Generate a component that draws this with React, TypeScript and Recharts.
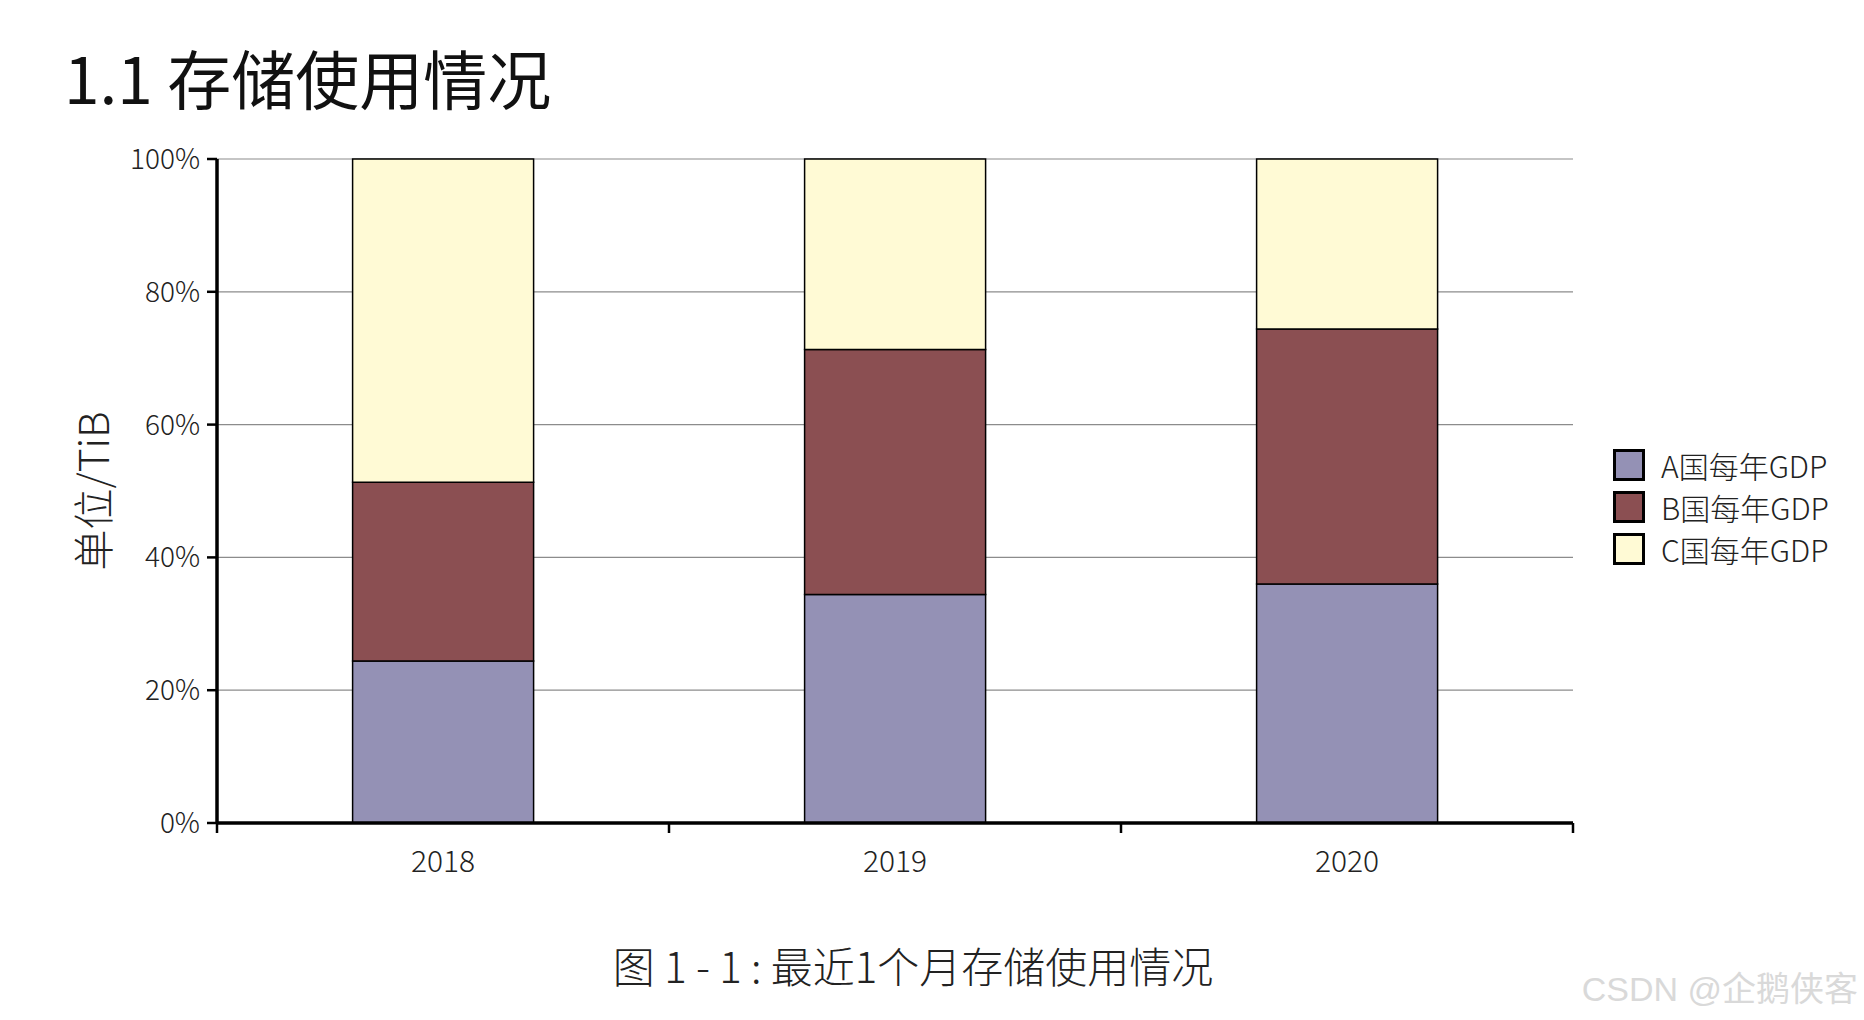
import { BarChart, Bar, XAxis, YAxis, CartesianGrid, Legend } from "recharts";

const years = ["2018", "2019", "2020"];
const seriesA = [24.4, 34.4, 36.0];
const seriesB = [26.9, 36.9, 38.4];
const seriesC = [48.7, 28.7, 25.6];
const yTicks = [0, 20, 40, 60, 80, 100];

const series = [
  { key: "a", name: "A国每年GDP", color: "#9491b5" },
  { key: "b", name: "B国每年GDP", color: "#8b4f52" },
  { key: "c", name: "C国每年GDP", color: "#fffad5" },
];

const data = years.map((year, i) => ({
  year,
  a: seriesA[i],
  b: seriesB[i],
  c: seriesC[i],
}));

const cjk = '"Noto Sans CJK SC", "Noto Sans", sans-serif';

// year label plus tick marks on the category boundaries
const YearTick = (props: any) => {
  const { x, y, payload, index, visibleTicksCount } = props;
  const half = payload.offset || 0;
  const last = index === visibleTicksCount - 1;
  return (
    <g>
      <line x1={x - half} x2={x - half} y1={y - 28} y2={y - 18} stroke="#000" strokeWidth={2.5} />
      {last && (
        <line x1={x + half} x2={x + half} y1={y - 28} y2={y - 18} stroke="#000" strokeWidth={2.5} />
      )}
      <text
        x={x}
        y={y}
        dy="0.71em"
        textAnchor="middle"
        fill="#222"
        fontSize={30}
        fontWeight={300}
        fontFamily={cjk}
      >
        {payload.value}
      </text>
    </g>
  );
};

const LegendBox = ({ payload }: any) => (
  <div style={{ fontFamily: cjk, fontWeight: 300 }}>
    {(payload || []).map((p: any) => (
      <div
        key={p.value}
        style={{ display: "flex", alignItems: "center", height: 42 }}
      >
        <span
          style={{
            width: 26,
            height: 26,
            border: "3px solid #000",
            background: p.color,
            display: "inline-block",
          }}
        />
        <span style={{ marginLeft: 16, fontSize: 30, color: "#222" }}>
          {p.value}
        </span>
      </div>
    ))}
  </div>
);

export default function App() {
  return (
    <div
      style={{
        position: "absolute",
        left: 0,
        top: 0,
        width: 1864,
        height: 1020,
        background: "#fff",
        overflow: "hidden",
      }}
    >
      <div
        style={{
          position: "absolute",
          left: 64,
          top: 38,
          fontFamily: cjk,
          fontWeight: 400,
          fontSize: 64,
          color: "#111",
          lineHeight: 1.2,
        }}
      >
        1.1 存储使用情况
      </div>
      <BarChart
        width={1864}
        height={1020}
        data={data}
        margin={{ top: 159, left: 137, right: 291, bottom: 137 }}
        barCategoryGap="30%"
      >
        <CartesianGrid vertical={false} stroke="#8c8c8c" strokeWidth={1.2} />
        <XAxis
          dataKey="year"
          height={60}
          axisLine={{ stroke: "#000", strokeWidth: 3.5 }}
          tickLine={false}
          tickSize={0}
          tickMargin={28}
          interval={0}
          tick={<YearTick />}
        />
        <YAxis
          width={80}
          domain={[0, 100]}
          ticks={yTicks}
          interval={0}
          axisLine={{ stroke: "#000", strokeWidth: 3.5 }}
          tickLine={{ stroke: "#000", strokeWidth: 2.5 }}
          tickSize={10}
          tickMargin={7}
          tickFormatter={(v: number) => `${Math.round(v)}%`}
          tick={{ fontFamily: cjk, fontWeight: 300, fontSize: 28, fill: "#222" }}
          label={{
            value: "单位/TiB",
            angle: -90,
            position: "insideLeft",
            offset: -43,
            style: {
              fontFamily: cjk,
              fontWeight: 300,
              fontSize: 41,
              fill: "#222",
              textAnchor: "middle",
            },
          }}
        />
        <Legend
          layout="vertical"
          align="center"
          verticalAlign="middle"
          wrapperStyle={{ left: 1613, top: 444, width: "auto" }}
          content={<LegendBox />}
        />
        {series.map((s) => (
          <Bar
            key={s.key}
            dataKey={s.key}
            name={s.name}
            stackId="gdp"
            fill={s.color}
            stroke="#000"
            strokeWidth={1.5}
            isAnimationActive={false}
          />
        ))}
      </BarChart>
      <div
        style={{
          position: "absolute",
          left: 0,
          width: 1826,
          top: 934,
          textAlign: "center",
          fontFamily: cjk,
          fontWeight: 300,
          fontSize: 42,
          color: "#222",
        }}
      >
        图 1 - 1 : 最近1个月存储使用情况
      </div>
      <div
        style={{
          position: "absolute",
          right: 6,
          top: 962,
          fontFamily: '"Liberation Sans", Arial, "Noto Sans CJK SC", sans-serif',
          fontSize: 34,
          color: "#d9d9d9",
        }}
      >
        CSDN @企鹅侠客
      </div>
    </div>
  );
}
